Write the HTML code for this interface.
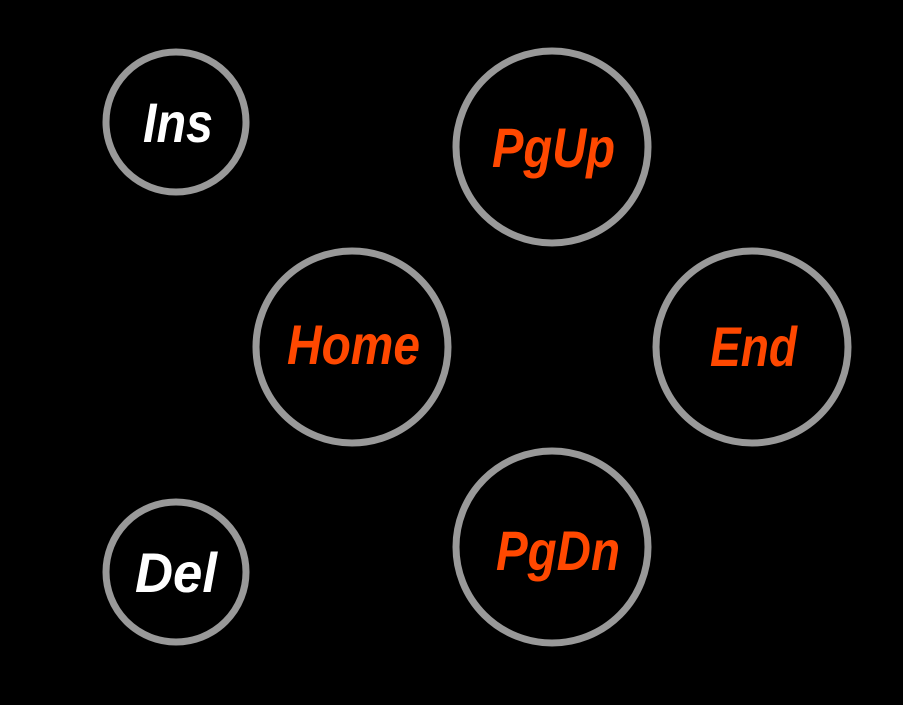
<!DOCTYPE html>
<html><head><meta charset="utf-8"><style>
html,body{margin:0;padding:0;background:#000;}
svg{display:block;}
text{font-family:"Liberation Sans",sans-serif;font-weight:bold;font-style:italic;}
</style></head><body>
<svg width="903" height="705" viewBox="0 0 903 705" xmlns="http://www.w3.org/2000/svg">
<rect width="903" height="705" fill="#000"/>
<g fill="#000" stroke="#999" stroke-width="7">
<circle cx="176" cy="122" r="70"/>
<circle cx="552" cy="147" r="96"/>
<circle cx="352" cy="347" r="96"/>
<circle cx="752" cy="347" r="96"/>
<circle cx="552" cy="547" r="96"/>
<circle cx="176" cy="572" r="70"/>
</g>
<g font-size="56">
<text x="143" y="142" fill="#fff" textLength="70" lengthAdjust="spacingAndGlyphs">Ins</text>
<text x="135" y="592" fill="#fff" textLength="82" lengthAdjust="spacingAndGlyphs">Del</text>
<text x="492" y="167" fill="#ff4800" textLength="123" lengthAdjust="spacingAndGlyphs">PgUp</text>
<text x="287" y="364" fill="#ff4800" textLength="133" lengthAdjust="spacingAndGlyphs">Home</text>
<text x="710" y="366" fill="#ff4800" textLength="87" lengthAdjust="spacingAndGlyphs">End</text>
<text x="496" y="570" fill="#ff4800" textLength="124" lengthAdjust="spacingAndGlyphs">PgDn</text>
</g>
</svg>
</body></html>
